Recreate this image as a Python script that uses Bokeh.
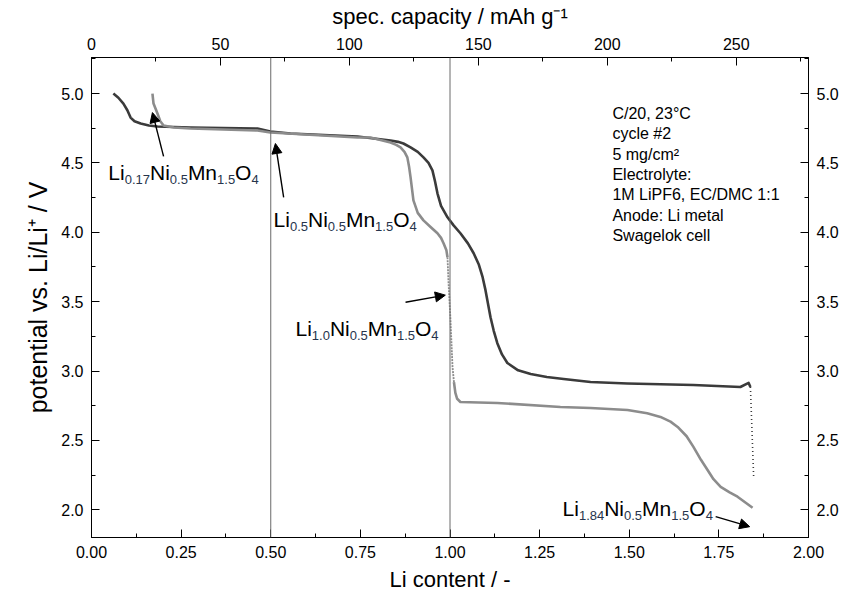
from bokeh.plotting import figure
from bokeh.models import (Range1d, LinearAxis, Span, Arrow, NormalHead, FixedTicker,
                          PrintfTickFormatter, ColumnDataSource)
from bokeh.embed import file_html
from bokeh.resources import INLINE
from bokeh.core.properties import value

# ---------------- data ----------------
# charge curve (dark)
charge_li = [0.061, 0.075, 0.089, 0.100, 0.109, 0.120, 0.137, 0.160, 0.184, 0.276, 0.463,
             0.499, 0.555, 0.742, 0.834, 0.855, 0.870, 0.890, 0.910, 0.926, 0.940, 0.951,
             0.958, 0.965, 0.975, 0.993, 1.010, 1.029, 1.050, 1.066, 1.080, 1.091, 1.099,
             1.113, 1.122, 1.132, 1.145, 1.160, 1.190, 1.225, 1.270, 1.317, 1.392, 1.495,
             1.679, 1.810, 1.833, 1.838]
charge_v = [5.000, 4.970, 4.928, 4.880, 4.827, 4.800, 4.784, 4.770, 4.763, 4.755, 4.748,
            4.727, 4.712, 4.691, 4.662, 4.652, 4.640, 4.612, 4.580, 4.540, 4.500, 4.446,
            4.370, 4.281, 4.190, 4.108, 4.050, 3.993, 3.920, 3.849, 3.770, 3.676, 3.583,
            3.388, 3.290, 3.201, 3.120, 3.058, 3.005, 2.978, 2.957, 2.942, 2.921, 2.910,
            2.899, 2.885, 2.914, 2.885]
charge_drop_li = [1.838, 1.847]
charge_drop_v = [2.885, 2.237]

# discharge curve (light): solid part, dotted steep part, solid tail
dis_li_a = [0.170, 0.173, 0.184, 0.192, 0.201, 0.230, 0.276, 0.463, 0.499, 0.742, 0.778,
            0.834, 0.850, 0.862, 0.873, 0.881, 0.886, 0.890, 0.898, 0.910, 0.926, 0.945,
            0.965, 0.975, 0.982, 0.990, 0.993]
dis_v_a = [5.000, 4.928, 4.856, 4.800, 4.770, 4.755, 4.748, 4.734, 4.719, 4.683, 4.683,
           4.647, 4.630, 4.612, 4.580, 4.540, 4.470, 4.396, 4.230, 4.140, 4.086, 4.040,
           3.993, 3.960, 3.921, 3.870, 3.820]
dis_li_b = [0.993, 0.996, 1.001, 1.007, 1.011]
dis_v_b = [3.820, 3.633, 3.388, 3.029, 2.920]
dis_li_c = [1.011, 1.015, 1.020, 1.029, 1.132, 1.308, 1.392, 1.495, 1.550, 1.587, 1.615,
            1.635, 1.660, 1.679, 1.700, 1.718, 1.735, 1.755, 1.780, 1.802, 1.844]
dis_v_c = [2.920, 2.842, 2.800, 2.777, 2.770, 2.741, 2.734, 2.719, 2.695, 2.669, 2.635,
           2.597, 2.530, 2.453, 2.360, 2.288, 2.220, 2.165, 2.125, 2.094, 2.014]

# ticks
x_ticks = [0.0, 0.25, 0.5, 0.75, 1.0, 1.25, 1.5, 1.75, 2.0]
y_ticks = [2.0, 2.5, 3.0, 3.5, 4.0, 4.5, 5.0]
cap_ticks = [0, 50, 100, 150, 200, 250]
cap_per_li = 139.0

# guide lines
guide_x = [0.5, 1.0]

# info text
info_lines = ["C/20, 23°C", "cycle #2", "5 mg/cm²", "Electrolyte:",
              "1M LiPF6, EC/DMC 1:1", "Anode: Li metal", "Swagelok cell"]

# formula annotations: subscripts, anchors, arrows (tail -> head)
formula_subs = [["0.17", "0.5", "1.5", "4"],
                ["0.5", "0.5", "1.5", "4"],
                ["1.0", "0.5", "1.5", "4"],
                ["1.84", "0.5", "1.5", "4"]]
formula_x = [0.047, 0.508, 0.569, 1.314]
formula_y = [4.432, 4.094, 3.309, 2.007]
arrow_x0 = [0.201, 0.536, 0.876, 1.741]
arrow_y0 = [4.547, 4.252, 3.496, 1.950]
arrow_x1 = [0.170, 0.513, 0.987, 1.836]
arrow_y1 = [4.863, 4.640, 3.547, 1.878]

FONT = "Liberation Sans"
DARK = "#3b3b3b"
LIGHT = "#8c8c8c"

p = figure(width=853, height=594, x_range=Range1d(0, 2.0), y_range=Range1d(1.8, 5.26),
           output_backend="svg", toolbar_location=None,
           min_border_left=91, min_border_right=45, min_border_top=57, min_border_bottom=56,
           background_fill_color="white", border_fill_color="white")
p.xgrid.visible = False
p.ygrid.visible = False
p.outline_line_color = "black"
p.outline_line_width = 1

p.extra_x_ranges = {"cap": Range1d(0, 2.0 * cap_per_li)}
top = LinearAxis(x_range_name="cap")
right = LinearAxis()
p.add_layout(top, "above")
p.add_layout(right, "right")

bottom = p.below[0]
left = p.left[0]

bottom.ticker = FixedTicker(ticks=x_ticks, minor_ticks=[t + 0.125 for t in x_ticks[:-1]])
bottom.formatter = PrintfTickFormatter(format="%.2f")
bottom.axis_label = "Li content / -"
top.ticker = FixedTicker(ticks=cap_ticks, minor_ticks=[t + 25 for t in cap_ticks])
top.formatter = PrintfTickFormatter(format="%d")
top.axis_label = "spec. capacity / mAh g⁻¹"
for ax in (left, right):
    ax.ticker = FixedTicker(ticks=y_ticks, minor_ticks=[t + 0.25 for t in [1.75] + y_ticks])
    ax.formatter = PrintfTickFormatter(format="%.1f")
left.axis_label = "potential vs. Li/Li⁺ / V"

for ax in (bottom, left, top, right):
    ax.major_tick_in = 8
    ax.major_tick_out = 0
    ax.minor_tick_in = 4
    ax.minor_tick_out = 0
    ax.axis_line_color = "black"
    ax.major_tick_line_color = "black"
    ax.minor_tick_line_color = "black"
    ax.major_label_text_font = FONT
    ax.major_label_text_font_size = "16px"
    ax.major_label_text_color = "black"
    ax.major_label_standoff = 8
    ax.axis_label_text_font = FONT
    ax.axis_label_text_font_size = "22px"
    ax.axis_label_text_font_style = "normal"
    ax.axis_label_text_color = "black"
    ax.axis_label_standoff = 6
left.axis_label_text_font_size = "25px"

for gx in guide_x:
    p.add_layout(Span(location=gx, dimension="height", line_color="#6a6a6a", line_width=1))

# curves
p.line(charge_li, charge_v, line_color=DARK, line_width=2.6, line_join="round")
p.line(charge_drop_li, charge_drop_v, line_color=DARK, line_width=1.6, line_dash="1 3")
p.line(dis_li_a, dis_v_a, line_color=LIGHT, line_width=2.6, line_join="round")
p.line(dis_li_b, dis_v_b, line_color=LIGHT, line_width=1.8, line_dash="2 1")
p.line(dis_li_c, dis_v_c, line_color=LIGHT, line_width=2.6, line_join="round")

# info text
n = len(info_lines)
p.text(x=[1.453] * n, y=[4.856] * n, text=info_lines,
       y_offset=[i * 20.3 for i in range(n)],
       text_font=value(FONT), text_font_size="16px", text_color="black",
       text_baseline="middle", text_align="left")

# formulas with subscripts
AW = {"L": 556, "i": 222, "N": 722, "M": 833, "n": 556, "O": 778, ".": 278}
for d in "0123456789":
    AW[d] = 556
MAIN = ["Li", "Ni", "Mn", "O"]
S_MAIN, S_SUB = 21, 13
cols = dict(x=[], y=[], text=[], xo=[], yo=[], size=[], color=[])
for subs, fx, fy in zip(formula_subs, formula_x, formula_y):
    off = 0.0
    for m, s in zip(MAIN, subs):
        for txt, sz, yo, col in ((m, S_MAIN, 0, "black"), (s, S_SUB, 7, "#26344c")):
            cols["x"].append(fx)
            cols["y"].append(fy)
            cols["text"].append(txt)
            cols["xo"].append(off)
            cols["yo"].append(yo)
            cols["size"].append(f"{sz}px")
            cols["color"].append(col)
            off += sum(AW[c] for c in txt) * sz / 1000.0
src = ColumnDataSource(cols)
p.text(x="x", y="y", text="text", x_offset="xo", y_offset="yo", text_font_size="size",
       text_color="color", text_font=value(FONT), text_baseline="alphabetic",
       text_align="left", source=src)

for x0, y0, x1, y1 in zip(arrow_x0, arrow_y0, arrow_x1, arrow_y1):
    p.add_layout(Arrow(x_start=x0, y_start=y0, x_end=x1, y_end=y1, line_width=1.4,
                       line_color="black",
                       end=NormalHead(size=10, fill_color="black", line_color="black")))

open("out.html", "w").write(file_html(p, INLINE))
